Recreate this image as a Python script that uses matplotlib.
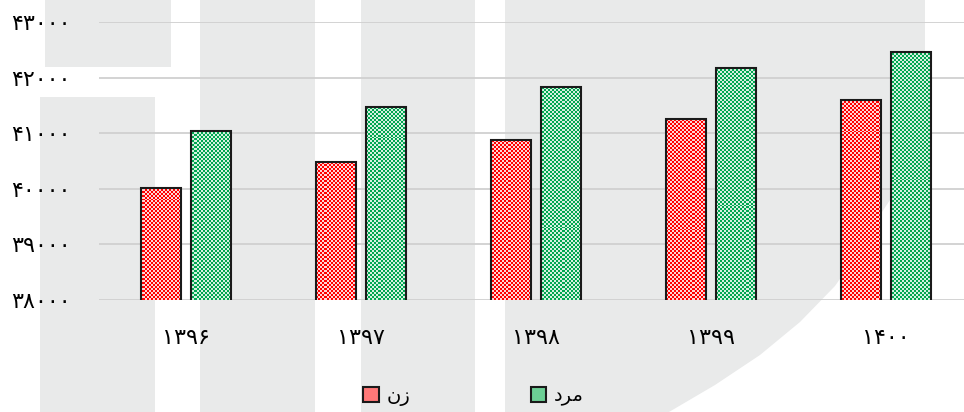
import numpy as np
import matplotlib
matplotlib.use("Agg")
import matplotlib.pyplot as plt
from matplotlib.patches import Polygon, Patch

# ---- data ----
categories = ["۱۳۹۶", "۱۳۹۷", "۱۳۹۸", "۱۳۹۹", "۱۴۰۰"]
women = [40010, 40485, 40880, 41255, 41600]   # زن
men = [41040, 41475, 41830, 42165, 42465]     # مرد
yticks = [38000, 39000, 40000, 41000, 42000, 43000]
ytick_labels = ["۳۸۰۰۰", "۳۹۰۰۰", "۴۰۰۰۰", "۴۱۰۰۰", "۴۲۰۰۰", "۴۳۰۰۰"]
label_women = "\u0646\u0632"              # زن (visual order)
label_men = "\uFEA9\uFEAE\uFEE3"          # مرد (visual order, shaped)

plt.rcParams['font.family'] = ['DejaVu Sans']

W, H = 964, 412
fig = plt.figure(figsize=(W / 100, H / 100), dpi=100)

def px(x, y):
    return (x / W, 1 - y / H)

# ---- watermark background ----
wm = "#e9eaea"
rects = [(45, 0, 171, 67), (40, 97, 155, 412), (200, 0, 315, 412), (361, 0, 475, 412)]
for x0, y0, x1, y1 in rects:
    fig.patches.append(Polygon([px(x0, y0), px(x1, y0), px(x1, y1), px(x0, y1)],
                               closed=True, transform=fig.transFigure,
                               facecolor=wm, edgecolor="none", zorder=-10))
curve = [(505, 0), (925, 0), (925, 120), (915, 160), (900, 185), (882, 212),
         (860, 250), (835, 286), (800, 322), (760, 355), (715, 385), (669, 412), (505, 412)]
fig.patches.append(Polygon([px(a, b) for a, b in curve], closed=True,
                           transform=fig.transFigure, facecolor=wm,
                           edgecolor="none", zorder=-10))

# ---- axes ----
ax_left, ax_right, ax_top, ax_bottom = 98.5, 973.5, 22, 300
ax = fig.add_axes([ax_left / W, 1 - ax_bottom / H, (ax_right - ax_left) / W,
                   (ax_bottom - ax_top) / H])
ax.set_zorder(5)
ax.set_facecolor("none")
ax.patch.set_visible(False)
ax.set_xlim(-0.5, len(categories) - 0.5)
ax.set_ylim(yticks[0], yticks[-1])
for s in ax.spines.values():
    s.set_visible(False)
ax.set_yticks(yticks)
ax.set_yticklabels(ytick_labels, fontsize=16)
ax.set_xticks(np.arange(len(categories)))
ax.set_xticklabels(categories, fontsize=16)
ax.tick_params(axis="y", length=0, pad=20)
ax.tick_params(axis="x", length=0, pad=20)
ax.yaxis.grid(True, color="#d0d0d0", linewidth=1.3)
ax.set_axisbelow(True)

x = np.arange(len(categories))
bw = 0.2286
off = 0.1429

# checkerboard textures
aw = int(ax_right - ax_left)
ah = int(ax_bottom - ax_top)
ii, jj = np.mgrid[0:ah // 2 + 1, 0:aw // 2 + 1]
chk = ((ii + jj) % 2).astype(bool)

def texture(c1, c2):
    c1 = np.array(matplotlib.colors.to_rgb(c1))
    c2 = np.array(matplotlib.colors.to_rgb(c2))
    return np.where(chk[..., None], c1, c2)

tex_w = texture("#ff0000", "#ffd6d6")
tex_m = texture("#00a651", "#d6f0e0")

bars_w = ax.bar(x - off, women, width=bw, bottom=0, facecolor="none",
                edgecolor="#1a1a1a", linewidth=1.5, zorder=3)
bars_m = ax.bar(x + off, men, width=bw, bottom=0, facecolor="none",
                edgecolor="#1a1a1a", linewidth=1.5, zorder=3)
ext = (-0.5, len(categories) - 0.5, yticks[0], yticks[-1])
for bars, tex in ((bars_w, tex_w), (bars_m, tex_m)):
    for b in bars:
        im = ax.imshow(tex, extent=ext, aspect="auto", interpolation="nearest",
                       origin="upper", zorder=2.5)
        im.set_clip_path(b)
ax.set_xlim(-0.5, len(categories) - 0.5)
ax.set_ylim(yticks[0], yticks[-1])

# ---- legend ----
handles = [Patch(facecolor="#ff7878", edgecolor="#1a1a1a", linewidth=1.5),
           Patch(facecolor="#6ccf95", edgecolor="#1a1a1a", linewidth=1.5)]
fig.legend(handles, [label_women, label_men], loc="center left",
           bbox_to_anchor=px(363, 396), ncol=2, frameon=False, fontsize=14,
           handlelength=0.8, handleheight=0.8, handletextpad=0.4,
           columnspacing=6.2, borderpad=0, borderaxespad=0)

fig.savefig("out.png", dpi=100)
